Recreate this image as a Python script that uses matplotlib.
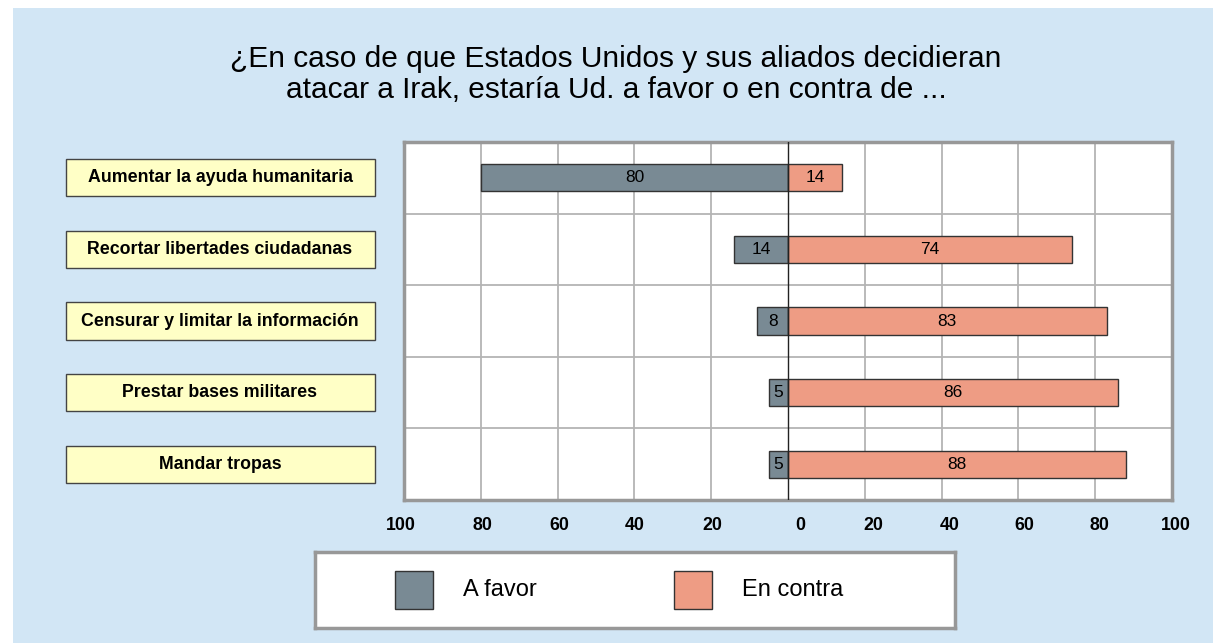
import matplotlib.pyplot as plt
from matplotlib.patches import Rectangle
from matplotlib.transforms import blended_transform_factory, ScaledTranslation

plt.rcParams['font.family'] = ['Liberation Sans', 'DejaVu Sans']

# Data
categories = ['Aumentar la ayuda humanitaria', 'Recortar libertades ciudadanas',
              'Censurar y limitar la información', 'Prestar bases militares',
              'Mandar tropas']
a_favor = [80, 14, 8, 5, 5]
en_contra = [14, 74, 83, 86, 88]
series_names = ['A favor', 'En contra']
ticks = [-100, -80, -60, -40, -20, 0, 20, 40, 60, 80, 100]
tick_labels = [str(abs(t)) for t in ticks]
title_lines = ['¿En caso de que Estados Unidos y sus aliados decidieran',
               'atacar a Irak, estaría Ud. a favor o en contra de ...']

col_favor = '#798a94'
col_contra = '#ee9c84'
bg_blue = '#d2e6f5'

W, H = 1213, 643
fig = plt.figure(figsize=(W / 100, H / 100), dpi=100)
fig.patch.set_facecolor('white')
# blue panel
fig.patches.append(Rectangle((13 / W, 0), 1, 1 - 8 / H, transform=fig.transFigure,
                             facecolor=bg_blue, edgecolor='none', zorder=-10))

# title
fig.text(616 / W, 1 - 67 / H, title_lines[0], ha='center', va='baseline', fontsize=21.5)
fig.text(616 / W, 1 - 98 / H, title_lines[1], ha='center', va='baseline', fontsize=21.5)

# main axes
ax = fig.add_axes([404 / W, 1 - 500 / H, 768 / W, 358 / H])
ax.set_facecolor('white')
y = list(range(len(categories)))
neg_favor = [-v for v in a_favor]
ax.barh(y, neg_favor, height=0.38, color=col_favor, edgecolor='#333333', linewidth=1, zorder=3)
ax.barh(y, en_contra, height=0.38, color=col_contra, edgecolor='#333333', linewidth=1, zorder=3)

for i in y:
    ax.text(neg_favor[i] / 2, i, str(a_favor[i]), ha='center', va='center', fontsize=12.5, zorder=4)
    ax.text(en_contra[i] / 2, i, str(en_contra[i]), ha='center', va='center', fontsize=12.5, zorder=4)

ax.set_xlim(-100, 100)
ax.set_ylim(len(categories) - 0.5, -0.5)
ax.set_xticks(ticks)
ax.set_xticklabels(tick_labels, fontsize=12.8, fontweight='bold')
ax.set_yticks([])
ax.tick_params(axis='x', length=0, pad=12)

# the original puts the right-hand labels a bit right of their gridlines
shifts = [-3, 2, 2, 0, 1, 12, 9, 8, 6, 4, 4]
for lab, dx in zip(ax.get_xticklabels(), shifts):
    lab.set_transform(lab.get_transform() + ScaledTranslation(dx / 100, 0, fig.dpi_scale_trans))

for t in ticks[1:-1]:
    if t != 0:
        ax.axvline(t, color='#b4b4b4', lw=1.3, zorder=1)
for b in [0.5, 1.5, 2.5, 3.5]:
    ax.axhline(b, color='#b4b4b4', lw=1.3, zorder=1)
ax.axvline(0, color='#222222', lw=1, zorder=5)

for s in ax.spines.values():
    s.set_color('#989898')
    s.set_linewidth(2.5)

# category label boxes: x in figure coords, y in data coords
trans = blended_transform_factory(fig.transFigure, ax.transData)
box_h = 0.52
for i, name in enumerate(categories):
    r = Rectangle((66 / W, i - box_h / 2), 309 / W, box_h, transform=trans,
                  facecolor='#ffffc6', edgecolor='#444444', linewidth=1, clip_on=False)
    fig.patches.append(r)
    fig.text(220 / W, i, name, transform=trans, ha='center', va='center',
             fontsize=12.8, fontweight='bold')

# legend
lax = fig.add_axes([315 / W, 1 - 628 / H, 640 / W, 76 / H])
lax.set_xlim(0, 640)
lax.set_ylim(76, 0)
lax.set_xticks([])
lax.set_yticks([])
lax.set_facecolor('white')
for s in lax.spines.values():
    s.set_color('#989898')
    s.set_linewidth(2.5)
for x0, col, name in [(80, col_favor, series_names[0]), (359, col_contra, series_names[1])]:
    lax.add_patch(Rectangle((x0, 19), 38, 38, facecolor=col, edgecolor='#333333', linewidth=1))
    lax.text(x0 + 68, 38, name, ha='left', va='center', fontsize=17)

fig.savefig('out.png', dpi=100)
